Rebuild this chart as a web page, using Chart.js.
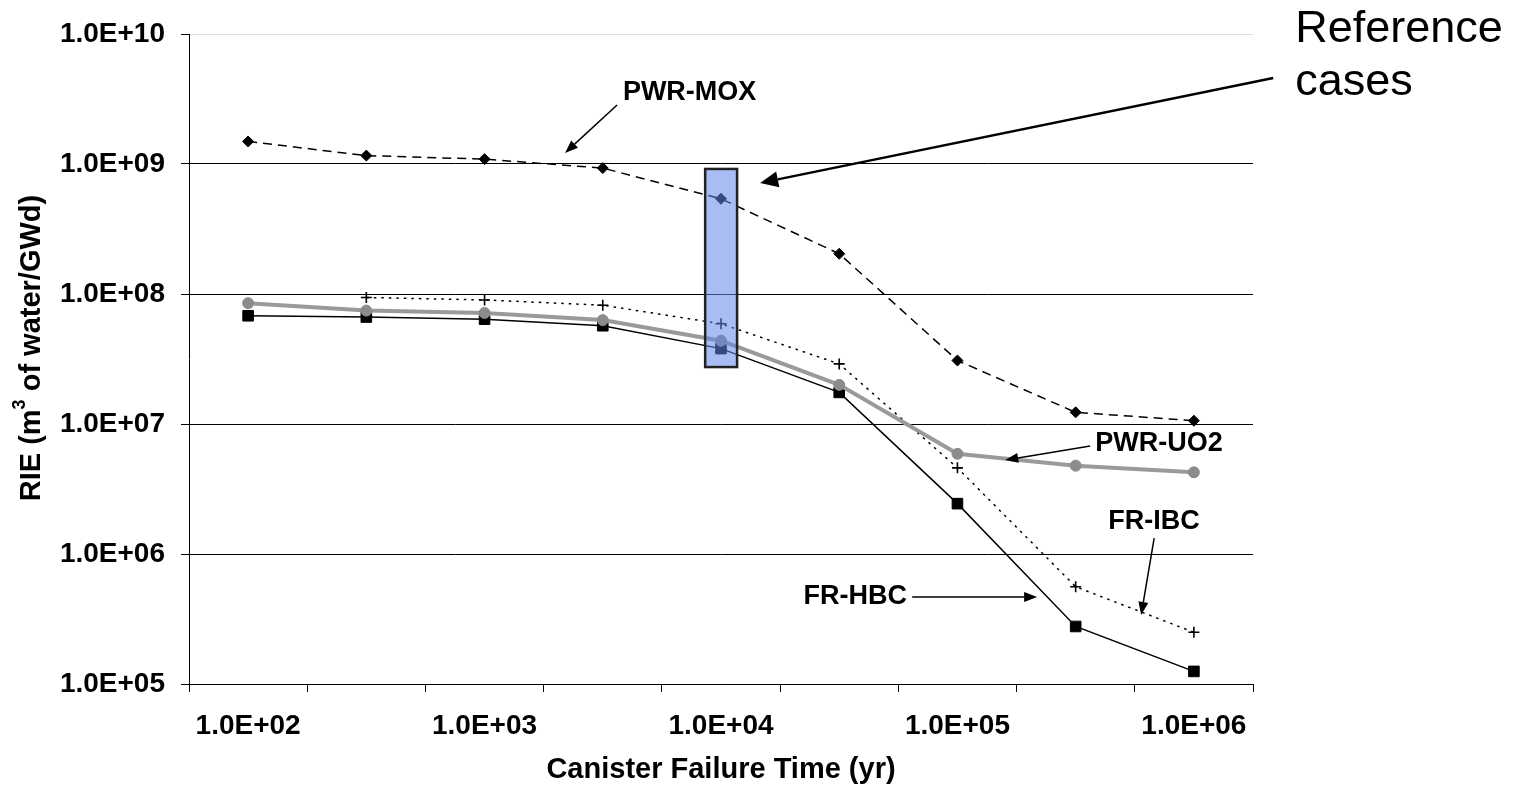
<!DOCTYPE html>
<html>
<head>
<meta charset="utf-8">
<title>RIE vs canister failure time</title>
<script src="https://cdn.jsdelivr.net/npm/chart.js@4.4.1/dist/chart.umd.min.js"></script>
<style>
  html, body { margin: 0; padding: 0; background: #fff; }
  #wrap { width: 1521px; height: 789px; }
</style>
</head>
<body>
<div id="wrap"><canvas id="myChart" width="1521" height="789"></canvas></div>
<script>
'use strict';
// canister failure times (yr), one category each
let years = [100, 300, 1000, 3000, 10000, 30000, 100000, 300000, 1000000];
let yTicks = [1e5, 1e6, 1e7, 1e8, 1e9, 1e10];

// RIE, m3 of water / GWd
let pwrMox = [1.49e9, 1.16e9, 1.09e9, 9.3e8, 5.4e8, 2.04e8, 3.08e7, 1.23e7, 1.06e7];
let pwrUo2 = [8.5e7, 7.45e7, 7.15e7, 6.3e7, 4.37e7, 2.0e7, 5.9e6, 4.78e6, 4.25e6];
let frIbc = [null, 9.4e7, 9.0e7, 8.2e7, 5.9e7, 2.9e7, 4.6e6, 5.6e5, 2.5e5];
let frHbc = [6.8e7, 6.65e7, 6.4e7, 5.7e7, 3.8e7, 1.75e7, 2.44e6, 2.77e5, 1.25e5];

let FONT = 'Arial, "Liberation Sans", Helvetica, sans-serif';

// annotations, placed in (category index, log10 value)
let labels = [
    {text: 'PWR-MOX', ix: 3.17, e: 9.546, align: 'left'},
    {text: 'PWR-UO2', ix: 7.165, e: 6.846, align: 'left'},
    {text: 'FR-IBC', ix: 7.275, e: 6.246, align: 'left'},
    {text: 'FR-HBC', ix: 5.574, e: 5.669, align: 'right'}
];
let arrows = [
    {from: [3.121, 9.454], to: [2.681, 9.085], w: 1.5, head: 13, half: 5},
    {from: [7.123, 6.831], to: [6.404, 6.723], w: 1.5, head: 13, half: 5},
    {from: [7.664, 6.123], to: [7.554, 5.531], w: 1.5, head: 13, half: 5},
    {from: [5.617, 5.669], to: [6.674, 5.669], w: 1.5, head: 13, half: 5},
    {from: [8.671, 9.662], to: [4.331, 8.854], w: 2.5, head: 18, half: 8}
];
let refBox = {ix1: 3.866, ix2: 4.136, e1: 8.962, e2: 7.438};

function fmtExp(v) {
    let p = Math.round(Math.log10(v));
    let m = v / Math.pow(10, p);
    let a = Math.abs(p);
    return m.toFixed(1) + 'E' + (p < 0 ? '-' : '+') + (a < 10 ? '0' + a : a);
}

function toPx(chart, ix, e) {
    return {
        x: chart.scales.x.getPixelForValue(ix),
        y: chart.scales.y.getPixelForValue(Math.pow(10, e))
    };
}

function drawArrow(c, a, b, w, head, half) {
    let ang = Math.atan2(b.y - a.y, b.x - a.x);
    let bx = b.x - head * Math.cos(ang);
    let by = b.y - head * Math.sin(ang);
    c.lineWidth = w;
    c.beginPath();
    c.moveTo(a.x, a.y);
    c.lineTo(bx, by);
    c.stroke();
    c.beginPath();
    c.moveTo(b.x, b.y);
    c.lineTo(bx + half * Math.sin(ang), by - half * Math.cos(ang));
    c.lineTo(bx - half * Math.sin(ang), by + half * Math.cos(ang));
    c.closePath();
    c.fill();
}

let notesPlugin = {
    id: 'notes',
    afterDatasetsDraw(chart) {
        let c = chart.ctx;
        let p1 = toPx(chart, refBox.ix1, refBox.e1);
        let p2 = toPx(chart, refBox.ix2, refBox.e2);
        c.save();
        c.fillStyle = 'rgba(95, 135, 235, 0.55)';
        c.fillRect(p1.x, p1.y, p2.x - p1.x, p2.y - p1.y);
        c.strokeStyle = '#222';
        c.lineWidth = 2.5;
        c.strokeRect(p1.x, p1.y, p2.x - p1.x, p2.y - p1.y);
        c.restore();
    },
    afterDraw(chart) {
        let c = chart.ctx;
        let area = chart.chartArea;
        c.save();
        c.fillStyle = '#000';
        c.strokeStyle = '#000';

        for (let i = 0; i < arrows.length; i++) {
            let a = toPx(chart, arrows[i].from[0], arrows[i].from[1]);
            let b = toPx(chart, arrows[i].to[0], arrows[i].to[1]);
            drawArrow(c, a, b, arrows[i].w, arrows[i].head, arrows[i].half);
        }

        c.font = 'bold 27px ' + FONT;
        c.textBaseline = 'middle';
        for (let i = 0; i < labels.length; i++) {
            let p = toPx(chart, labels[i].ix, labels[i].e);
            c.textAlign = labels[i].align;
            c.fillText(labels[i].text, p.x, p.y);
        }

        // "Reference cases" callout, right of the plot
        c.font = '45px ' + FONT;
        c.textAlign = 'left';
        c.textBaseline = 'alphabetic';
        let r1 = toPx(chart, 8.857, 9.938);
        let r2 = toPx(chart, 8.857, 9.531);
        c.fillText('Reference', r1.x, r1.y);
        c.fillText('cases', r2.x, r2.y);

        // y axis title with superscript
        let big = 'bold 29px ' + FONT;
        let small = 'bold 18px ' + FONT;
        let t1 = 'RIE (m', t2 = '3', t3 = ' of water/GWd)';
        c.font = big;
        let w1 = c.measureText(t1).width;
        let w3 = c.measureText(t3).width;
        c.font = small;
        let w2 = c.measureText(t2).width;
        let total = w1 + w2 + w3;
        c.translate(40, (area.top + area.bottom) / 2 - 11);
        c.rotate(-Math.PI / 2);
        let x0 = -total / 2;
        c.font = big;
        c.fillText(t1, x0, 0);
        c.font = small;
        c.fillText(t2, x0 + w1, -15);
        c.font = big;
        c.fillText(t3, x0 + w1 + w2, 0);
        c.restore();
    }
};

let ctx = document.getElementById('myChart').getContext('2d');
let myChart = new Chart(ctx, {
    type: 'line',
    data: {
        labels: years.map(fmtExp),
        datasets: [{
            label: 'PWR-MOX',
            data: pwrMox,
            borderColor: '#000',
            borderWidth: 1.5,
            borderDash: [9, 6],
            pointStyle: 'rectRot',
            pointRadius: 5.5,
            pointBackgroundColor: '#000',
            pointBorderColor: '#000',
            pointBorderWidth: 1
        }, {
            label: 'PWR-UO2',
            data: pwrUo2,
            borderColor: '#9a9a9a',
            borderWidth: 4,
            pointStyle: 'circle',
            pointRadius: 5.5,
            pointBackgroundColor: '#8c8c8c',
            pointBorderColor: '#8c8c8c',
            pointBorderWidth: 1
        }, {
            label: 'FR-IBC',
            data: frIbc,
            borderColor: '#000',
            borderWidth: 1.5,
            borderDash: [2.5, 5],
            pointStyle: 'cross',
            pointRadius: 5.5,
            pointBorderColor: '#000',
            pointBorderWidth: 1.6
        }, {
            label: 'FR-HBC',
            data: frHbc,
            borderColor: '#000',
            borderWidth: 1.5,
            pointStyle: 'rect',
            pointRadius: 7.5,
            pointBackgroundColor: '#000',
            pointBorderColor: '#000',
            pointBorderWidth: 1
        }]
    },
    options: {
        responsive: false,
        animation: false,
        layout: {padding: {top: 34, right: 268, left: 0, bottom: 0}},
        elements: {line: {tension: 0, fill: false}},
        plugins: {
            legend: {display: false},
            tooltip: {enabled: false}
        },
        scales: {
            x: {
                type: 'category',
                offset: true,
                grid: {offset: true, drawOnChartArea: false, drawTicks: true, tickLength: 8, color: '#000'},
                border: {color: '#000', width: 1},
                ticks: {
                    autoSkip: false,
                    maxRotation: 0,
                    minRotation: 0,
                    padding: 17,
                    color: '#000',
                    font: {family: FONT, size: 28, weight: 'bold'},
                    callback: (v, i) => i % 2 === 0 ? fmtExp(years[i]) : ''
                },
                title: {
                    display: true,
                    text: 'Canister Failure Time (yr)',
                    color: '#000',
                    font: {family: FONT, size: 29, weight: 'bold'},
                    padding: {top: 4, bottom: 2}
                },
                afterFit: s => { s.height = 105; }
            },
            y: {
                type: 'logarithmic',
                min: 1e5,
                max: 1e10,
                afterBuildTicks: s => { s.ticks = yTicks.map(v => ({value: v})); },
                grid: {
                    color: c => (c.tick && c.tick.value === 1e10) ? '#dddddd' : '#000',
                    tickColor: '#000',
                    tickLength: 8,
                    lineWidth: 1
                },
                border: {color: '#000', width: 1},
                ticks: {
                    padding: 16,
                    color: '#000',
                    font: {family: FONT, size: 28, weight: 'bold'},
                    callback: v => fmtExp(v)
                },
                afterFit: s => { s.width = 189; }
            }
        }
    },
    plugins: [notesPlugin]
});
</script>
</body>
</html>
